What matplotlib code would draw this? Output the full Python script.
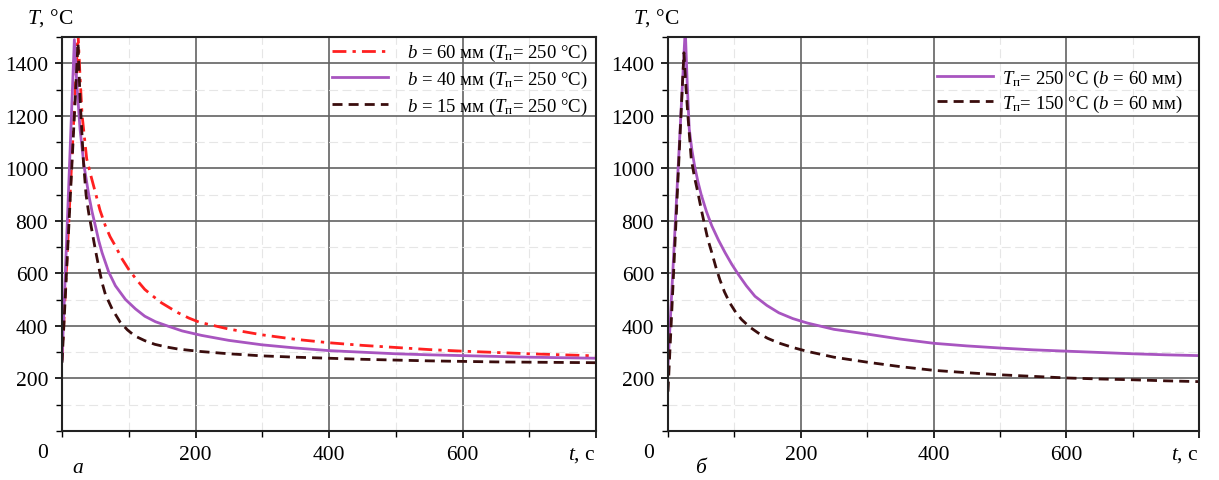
import numpy as np
import matplotlib
matplotlib.use('Agg')
import matplotlib.pyplot as plt
from matplotlib.ticker import MultipleLocator

#fonts (Times-like look)
plt.rcParams['font.family'] = 'Liberation Serif'
plt.rcParams['mathtext.fontset'] = 'custom'
plt.rcParams['mathtext.rm'] = 'Liberation Serif'
plt.rcParams['mathtext.it'] = 'Liberation Serif:italic'

#data, panel a (b varies, Tп = 250 °C)
t60 = [0, 24, 27, 30, 37, 44, 50, 57, 65, 72, 80, 90, 100, 112, 124, 137, 149, 162, 174, 190, 206,
       250, 300, 350, 400, 450, 500, 550, 600, 650, 700, 750, 800]
T60 = [270, 1515, 1350, 1205, 1036, 965, 908, 840, 781, 740, 704, 655, 615, 575, 539, 512, 488, 468, 450, 430, 414,
       388, 366, 349, 336, 326, 318, 310, 304, 299, 294, 290, 286]

t40 = [0, 18.5, 22, 27, 33, 40, 45, 50, 55, 60, 70, 80, 95, 110, 124, 140, 159, 180, 209,
       250, 300, 350, 400, 450, 500, 550, 600, 650, 700, 750, 800]
T40 = [270, 1490, 1330, 1150, 1010, 900, 835, 781, 725, 679, 605, 553, 501, 465, 437, 416, 399, 381, 364,
       345, 328, 316, 306, 300, 294, 290, 287, 284, 281, 279, 277]

t15 = [0, 24, 27, 32, 36, 40, 45, 50, 55, 60, 65, 75, 87, 98, 109, 124, 139, 156, 174, 206,
       250, 300, 350, 400, 450, 500, 550, 600, 650, 700, 750, 800]
T15 = [260, 1478, 1270, 1030, 900, 830, 760, 690, 625, 565, 520, 465, 415, 385, 362, 344, 330, 320, 312, 303,
       294, 286, 281, 277, 273, 270, 267, 265, 263, 262, 261, 260]

#data, panel б (Tп varies, b = 60 мм)
t250 = [0, 26, 29, 32, 36, 40, 45, 50, 58, 66, 76, 86, 96, 106, 118, 131, 149, 167, 188, 210,
        250, 300, 350, 400, 450, 500, 550, 600, 650, 700, 750, 800]
T250 = [250, 1530, 1320, 1150, 1070, 1010, 950, 900, 835, 781, 727, 679, 635, 596, 553, 513, 478, 450, 428, 411,
        387, 369, 350, 334, 324, 316, 309, 304, 299, 294, 290, 287]

t150 = [0, 24, 27, 30, 35, 40, 45, 50, 55.5, 60, 66, 72, 78, 85, 93, 102, 111, 123, 136, 150, 167, 188, 210,
        250, 300, 350, 400, 450, 500, 550, 600, 650, 700, 750, 800]
T150 = [150, 1440, 1310, 1200, 1036, 965, 908, 845, 781, 730, 679, 625, 577, 530, 488, 452, 424, 396, 373, 353, 335, 318, 303,
        281, 262, 245, 231, 222, 214, 208, 202, 198, 195, 191, 188]

labels_a = [r'$b$ = 60 мм ($T_{\mathrm{п}}$= 250 °C)',
            r'$b$ = 40 мм ($T_{\mathrm{п}}$= 250 °C)',
            r'$b$ = 15 мм ($T_{\mathrm{п}}$= 250 °C)']
labels_b = [r'$T_{\mathrm{п}}$= 250 °C ($b$ = 60 мм)',
            r'$T_{\mathrm{п}}$= 150 °C ($b$ = 60 мм)']

red = '#ff2020'
purple = '#a855c0'
brown = '#3a0d0d'

W, H = 1219, 481
fig = plt.figure(figsize=(W/100, H/100), dpi=100)
ax1 = fig.add_axes([62/W, 49/H, 534/W, 394/H])
ax2 = fig.add_axes([668/W, 49/H, 531/W, 394/H])

def style(ax, letter, letter_dx):
    ax.set_xlim(0, 800)
    ax.set_ylim(0, 1500)
    ax.xaxis.set_major_locator(MultipleLocator(200))
    ax.xaxis.set_minor_locator(MultipleLocator(100))
    ax.yaxis.set_major_locator(MultipleLocator(200))
    ax.yaxis.set_minor_locator(MultipleLocator(100))
    ax.grid(which='major', color='#626262', lw=1.2)
    ax.grid(which='minor', color='#e6e6e6', lw=0.8, ls=(0, (8, 4)))
    ax.set_axisbelow(True)
    for s in ax.spines.values():
        s.set_linewidth(1.5)
        s.set_color('#222222')
    ax.tick_params(which='major', length=5, width=1.2, labelsize=15.5, pad=5)
    ax.tick_params(which='minor', length=4, width=1.0)
    ax.set_xticks([200, 400, 600, 800])
    ax.set_xticklabels(['200', '400', '600', r'$t$, с'])
    ax.get_xticklabels()[-1].set_horizontalalignment('right')
    ax.set_yticks([200, 400, 600, 800, 1000, 1200, 1400])
    # origin label and axis title
    ax.annotate('0', xy=(0, 0), xycoords='data', xytext=(-19, -22),
                textcoords='offset pixels', ha='center', va='center', fontsize=15.5)
    ax.annotate(r'$T$, °C', xy=(0, 1), xycoords='axes fraction', xytext=(-12, 20),
                textcoords='offset pixels', ha='center', va='center', fontsize=15.5)
    ax.annotate(letter, xy=(0, 0), xycoords='axes fraction', xytext=(letter_dx, -37),
                textcoords='offset pixels', ha='center', va='center', fontsize=15.5,
                style='italic')

style(ax1, 'а', 16)
style(ax2, 'б', 32)

dash = (0, (3.6, 2.2))
ax1.plot(t60, T60, color=red, lw=2, ls=(0, (5, 2.2, 1.2, 2.2)), label=labels_a[0])
ax1.plot(t40, T40, color=purple, lw=2, label=labels_a[1])
ax1.plot(t15, T15, color=brown, lw=2, ls=dash, label=labels_a[2])
ax1.legend(loc='upper right', bbox_to_anchor=(1.0 + 5/534, 1.0 + 8/394), frameon=False, fontsize=13.5,
           handlelength=3.0, handletextpad=1.0, labelspacing=0.3, borderaxespad=0.3)

ax2.plot(t250, T250, color=purple, lw=2, label=labels_b[0])
ax2.plot(t150, T150, color=brown, lw=2, ls=dash, label=labels_b[1])
ax2.legend(loc='upper right', bbox_to_anchor=(0.995, 0.955), frameon=False, fontsize=13.5,
           handlelength=3.0, handletextpad=0.5, labelspacing=0.2, borderaxespad=0.3)

fig.savefig('out.png', dpi=100)
